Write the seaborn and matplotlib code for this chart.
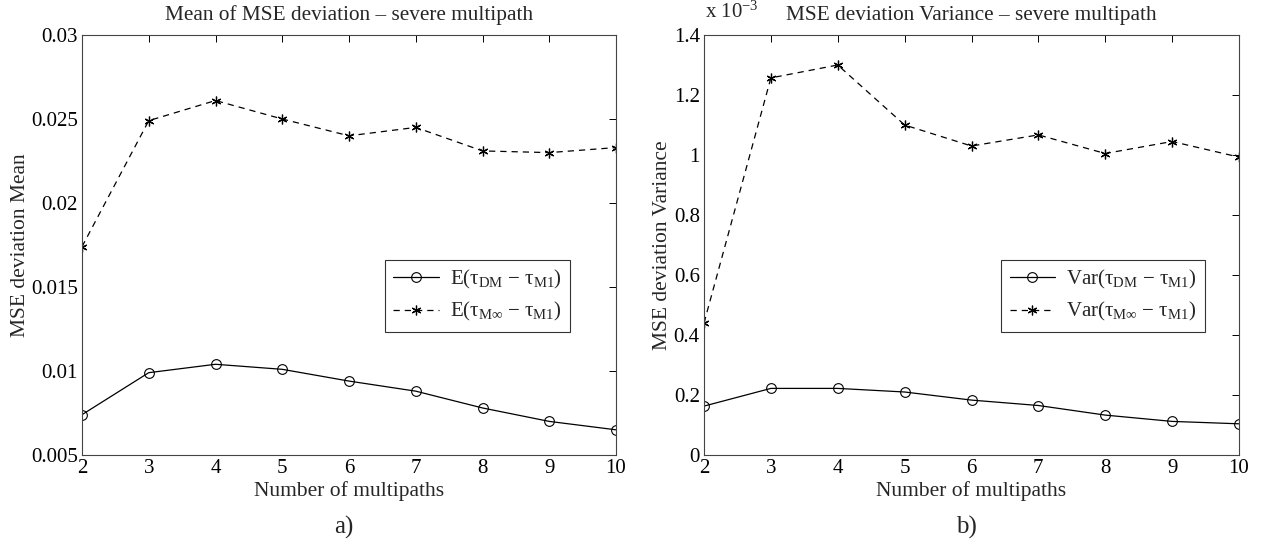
import matplotlib
matplotlib.use('Agg')
import matplotlib.pyplot as plt
from matplotlib.ticker import FuncFormatter
import seaborn as sns
import pandas as pd

# === Data ===
paths = [2, 3, 4, 5, 6, 7, 8, 9, 10]
mean_dm = [0.0074, 0.0099, 0.0104, 0.0101, 0.0094, 0.0088, 0.0078, 0.0070, 0.0065]
mean_minf = [0.0174, 0.0249, 0.0261, 0.0250, 0.0240, 0.0245, 0.0231, 0.0230, 0.0233]
var_dm = [0.163e-3, 0.222e-3, 0.222e-3, 0.210e-3, 0.183e-3, 0.165e-3, 0.133e-3, 0.112e-3, 0.104e-3]
var_minf = [0.44e-3, 1.257e-3, 1.30e-3, 1.10e-3, 1.03e-3, 1.067e-3, 1.005e-3, 1.045e-3, 0.993e-3]

sns.set_style('white')
plt.rcParams['font.family'] = ['Liberation Serif', 'DejaVu Serif']
plt.rcParams['mathtext.fontset'] = 'custom'
plt.rcParams['mathtext.rm'] = 'Liberation Serif'
plt.rcParams['mathtext.it'] = 'Liberation Serif:italic'
plt.rcParams['mathtext.sf'] = 'Liberation Serif'

fig = plt.figure(figsize=(12.61, 5.49), dpi=100)
ax1 = fig.add_axes([82 / 1261, 1 - 455 / 549, 534 / 1261, 420 / 549])
ax2 = fig.add_axes([704 / 1261, 1 - 455 / 549, 535 / 1261, 420 / 549])

df = pd.DataFrame({'paths': paths, 'mean_dm': mean_dm, 'mean_minf': mean_minf,
                   'var_dm': var_dm, 'var_minf': var_minf})

# legend labels (upright tau, subscripts via mathtext)
lab_dm = 'τ$_{\\mathrm{DM}}$ \u2212 τ$_{\\mathrm{M1}}$)'
lab_minf = 'τ$_{\\mathrm{M\u221e}}$ \u2212 τ$_{\\mathrm{M1}}$)'

circle_kw = dict(color='black', lw=0.9, marker='o', markersize=7,
                 markerfacecolor='none', markeredgecolor='black', markeredgewidth=0.8)
star_kw = dict(color='black', lw=0.9, linestyle=(0, (5, 4)), marker=(6, 2, 0),
               markersize=7, markeredgecolor='black', markeredgewidth=0.9)


def style_axes(ax):
    ax.tick_params(direction='in', top=True, right=True, length=5, width=0.7,
                   labelsize=15, colors='black', pad=3)
    for s in ax.spines.values():
        s.set_color('#444444')
        s.set_linewidth(0.8)
    ax.set_xlim(2, 10)
    ax.set_xticks(paths)


def add_legend(ax, x0):
    leg = ax.legend(loc='upper left', bbox_to_anchor=(x0, 0.49), fontsize=15,
                    frameon=True, fancybox=False, edgecolor='black', handlelength=2.2,
                    borderpad=0.4, labelspacing=0.45, handletextpad=0.5)
    leg.get_frame().set_linewidth(0.8)


# --- a) mean ---
sns.lineplot(data=df, x='paths', y='mean_dm', ax=ax1, label='E(' + lab_dm, **circle_kw)
sns.lineplot(data=df, x='paths', y='mean_minf', ax=ax1, label='E(' + lab_minf, **star_kw)
style_axes(ax1)
ax1.set_ylim(0.005, 0.03)
ax1.set_yticks([0.005, 0.01, 0.015, 0.02, 0.025, 0.03])
ax1.yaxis.set_major_formatter(FuncFormatter(lambda v, p: '%g' % round(v, 4)))
ax1.set_title('Mean of MSE deviation \u2013 severe multipath', fontsize=15.3, pad=11)
ax1.set_xlabel('Number of multipaths', fontsize=15.5, labelpad=2)
ax1.set_ylabel('MSE deviation Mean', fontsize=15.5, labelpad=1)
add_legend(ax1, 0.548)

# --- b) variance ---
sns.lineplot(data=df, x='paths', y='var_dm', ax=ax2, label='Var(' + lab_dm, **circle_kw)
sns.lineplot(data=df, x='paths', y='var_minf', ax=ax2, label='Var(' + lab_minf, **star_kw)
style_axes(ax2)
ax2.set_ylim(0, 1.4e-3)
ax2.set_yticks([0, 0.2e-3, 0.4e-3, 0.6e-3, 0.8e-3, 1.0e-3, 1.2e-3, 1.4e-3])
ax2.yaxis.set_major_formatter(FuncFormatter(lambda v, p: '%g' % round(v * 1e3, 3)))
ax2.text(0.002, 1.03, r'x 10$^{-3}$', transform=ax2.transAxes, fontsize=15,
         ha='left', va='bottom')
ax2.set_title('MSE deviation Variance \u2013 severe multipath', fontsize=15.3, pad=11)
ax2.set_xlabel('Number of multipaths', fontsize=15.5, labelpad=2)
ax2.set_ylabel('MSE deviation Variance', fontsize=15.5, labelpad=1)
add_legend(ax2, 0.536)

fig.text(344 / 1261, 1 - 527 / 549, 'a)', fontsize=18, ha='center', va='center')
fig.text(966 / 1261, 1 - 527 / 549, 'b)', fontsize=18, ha='center', va='center')

fig.savefig('out.png', dpi=100)
